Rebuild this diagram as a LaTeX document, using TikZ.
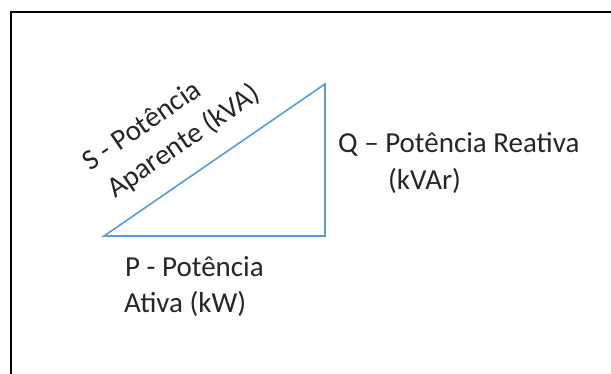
\documentclass[tikz,border=0pt]{standalone}
\usepackage{fontspec}
\setmainfont{Carlito}
\definecolor{triblue}{HTML}{5B9BD5}
\tikzset{
  lbl/.style={inner sep=0pt, font=\fontsize{29}{36}\selectfont, text=black!85},
  frameline/.style={line width=2pt, black},
  triline/.style={line width=1.6pt, triblue, line join=miter}
}
\begin{document}
\begin{tikzpicture}[x=1pt,y=-1pt]
\useasboundingbox (0,0) rectangle (611,374);
\clip (0,0) rectangle (611,374);
\fill[white] (0,0) rectangle (611,374);
\draw[frameline] (11,380) -- (11,12) -- (620,12);
\coordinate (A) at (104,236);
\coordinate (B) at (325,84);
\coordinate (C) at (325,236);
\draw[triline] (A) -- (B) -- (C) -- cycle;
\node[lbl, anchor=base west] (q1) at (338,153) {Q – Potência Reativa};
\node[lbl, anchor=base west] (q2) at (388,190) {(kVAr)};
\node[lbl, anchor=base west] (p1) at (125,277) {P - Potência};
\node[lbl, anchor=base west] (p2) at (124,313) {Ativa (kW)};
\node[lbl, anchor=base west, rotate=34.5] (s1) at (90,172) {S - Potência};
\node[lbl, anchor=base west, rotate=34.5] (s2) at (115,199) {Aparente (kVA)};
\end{tikzpicture}
\end{document}
